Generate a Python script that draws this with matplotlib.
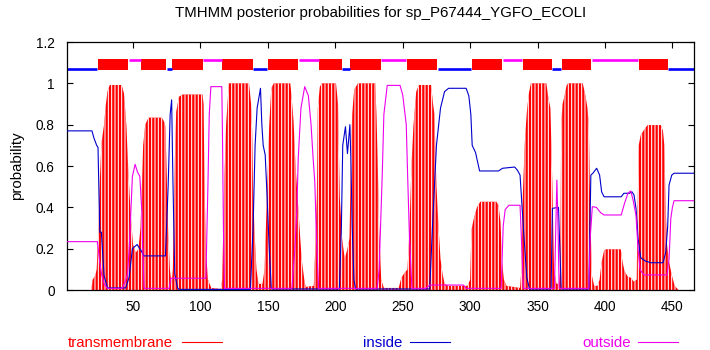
import matplotlib
matplotlib.use("Agg")
import matplotlib.pyplot as plt
from matplotlib.lines import Line2D
from matplotlib.ticker import FormatStrFormatter

plt.rcParams['font.family'] = ['Liberation Sans', 'DejaVu Sans']
plt.rcParams['hatch.color'] = 'white'
plt.rcParams['hatch.linewidth'] = 0.75

title = "TMHMM posterior probabilities for sp_P67444_YGFO_ECOLI"
seq_len = 466

# posterior curves as (residue, probability) vertices
tm_res = [1, 19, 20, 22, 23, 24.3, 25.5, 26.5, 28.5, 29.5, 31, 32.7, 41.6, 43.3, 45, 46.6,
          48, 49, 50, 52, 54, 55.5, 56.5, 57.5, 59, 61.4, 71.3, 73, 74, 75, 76, 77.3,
          78.5, 79.5, 80.3, 81, 82, 84, 86.7, 101.5, 102.3, 103, 104, 105.5, 108, 115,
          116.1, 117.5, 119, 121, 136, 137.5, 138.3, 139, 140, 141.5, 143, 146, 147.5,
          148.5, 150, 151, 152.5, 154.3, 166.6, 167.5, 169, 170.5, 172, 173.5, 175, 177,
          178, 184, 185.1, 186.3, 187, 188.5, 190, 200.5, 202, 203.3, 205, 207, 209,
          210.5, 211.5, 212.5, 214, 216.8, 229.6, 230.5, 231.5, 232.5, 234, 236, 247,
          249, 251, 253.5, 255, 256.5, 258, 260, 262, 271, 272.5, 273.5, 275, 276.5,
          278, 279.5, 281, 284, 298, 300, 300.9, 302.5, 305, 307.5, 319.5, 321, 322.5,
          323.5, 325, 327, 337, 338, 339, 340.5, 342, 343.5, 345, 356.5, 358, 359.5,
          361, 362.2, 364, 366, 366.8, 367.5, 368.5, 370, 371.5, 372.6, 383.5, 385.5,
          387, 388, 389, 390.3, 392, 394.4, 396, 397.5, 399.3, 400.5, 411.7, 413, 414.5,
          417, 419, 421.5, 423.5, 424.2, 425, 426.5, 428.5, 431.5, 441.4, 443, 444, 445,
          446, 447.5, 449.5, 451.7, 454.5, 466]
tm_val = [0, 0, 0.05, 0.07, 0.1, 0.30, 0.55, 0.71, 0.80, 0.88, 0.96, 0.992, 0.992, 0.95,
          0.80, 0.56, 0.395, 0.30, 0.22, 0.18, 0.20, 0.30, 0.50, 0.70, 0.80, 0.834, 0.834,
          0.815, 0.79, 0.55, 0.29, 0.10, 0.03, 0.10, 0.395, 0.637, 0.863, 0.935, 0.946,
          0.946, 0.90, 0.52, 0.20, 0.05, 0.01, 0.005, 0.05, 0.50, 0.80, 1.0, 1.0, 0.90,
          0.774, 0.50, 0.29, 0.10, 0.03, 0.03, 0.10, 0.30, 0.60, 0.80, 0.976, 1.0, 1.0,
          0.94, 0.82, 0.60, 0.45, 0.30, 0.15, 0.05, 0.015, 0.02, 0.20, 0.45, 0.88, 0.983,
          1.0, 1.0, 0.90, 0.45, 0.25, 0.15, 0.20, 0.25, 0.60, 0.85, 0.97, 1.0, 1.0, 0.85,
          0.60, 0.30, 0.05, 0.01, 0.01, 0.06, 0.08, 0.10, 0.30, 0.61, 0.80, 0.96, 0.992,
          0.992, 0.90, 0.85, 0.50, 0.31, 0.15, 0.08, 0.03, 0.02, 0.02, 0.05, 0.29, 0.34,
          0.40, 0.427, 0.427, 0.41, 0.33, 0.15, 0.05, 0.02, 0.01, 0.10, 0.45, 0.71, 0.86,
          0.95, 1.0, 1.0, 0.93, 0.88, 0.50, 0.10, 0.03, 0.03, 0.10, 0.80, 0.90, 0.94,
          0.99, 1.0, 1.0, 0.94, 0.88, 0.80, 0.40, 0.07, 0.02, 0.02, 0.05, 0.137, 0.19,
          0.197, 0.197, 0.137, 0.09, 0.064, 0.06, 0.04, 0.05, 0.40, 0.70, 0.75, 0.77,
          0.798, 0.798, 0.77, 0.70, 0.40, 0.22, 0.137, 0.073, 0.02, 0.0, 0.0]

in_res = [1, 19.5, 21, 23, 24, 25.3, 26.5, 28.5, 31, 44.5, 47, 49.5, 53, 56, 58, 74, 76,
          77.5, 78.6, 79.5, 80.9, 83, 84, 137, 139, 140.5, 142, 144.5, 145.5, 146.5,
          148, 149, 151, 152.5, 203, 204.5, 205.5, 207.5, 209, 210.8, 211.5, 212.5,
          213.8, 215, 270, 272, 275, 278, 281, 284, 297, 299, 300.5, 301.5, 304, 305.5,
          307, 321, 324, 333, 335, 337, 338.5, 340, 342, 344, 360, 361, 365.5, 366,
          367.5, 388, 389.5, 391, 393.8, 396, 397.5, 399.3, 412, 414, 418, 420, 421.5,
          423, 424.5, 426.5, 430, 434, 443, 445, 446.5, 447.5, 449.5, 451.2, 466]
in_val = [0.77, 0.77, 0.735, 0.70, 0.69, 0.28, 0.28, 0.07, 0.01, 0.01, 0.06, 0.20, 0.22,
          0.19, 0.165, 0.165, 0.50, 0.85, 0.92, 0.55, 0.08, 0.01, 0.003, 0.003, 0.30,
          0.70, 0.88, 0.976, 0.80, 0.70, 0.653, 0.508, 0.20, 0.005, 0.005, 0.31, 0.70,
          0.79, 0.66, 0.80, 0.64, 0.31, 0.05, 0.005, 0.005, 0.30, 0.70, 0.88, 0.96,
          0.976, 0.976, 0.94, 0.85, 0.70, 0.665, 0.62, 0.576, 0.576, 0.589, 0.595, 0.58,
          0.556, 0.40, 0.25, 0.06, 0.005, 0.005, 0.395, 0.40, 0.30, 0.005, 0.005, 0.556,
          0.565, 0.589, 0.556, 0.475, 0.451, 0.451, 0.468, 0.468, 0.475, 0.46, 0.395,
          0.25, 0.156, 0.14, 0.132, 0.132, 0.18, 0.31, 0.508, 0.556, 0.565, 0.565]

out_res = [1, 23.6, 25, 26.5, 28.5, 31, 42, 44.6, 46, 47.5, 49.5, 51.5, 53.3, 55, 56.5, 57,
           58.2, 76.8, 78, 104, 105.5, 106.5, 107.7, 115.8, 116.3, 117, 117.8, 167.8,
           170, 171.5, 172.5, 174.5, 177.3, 180, 182, 183.5, 184.8, 186, 187.6, 231,
           232.5, 234.8, 236, 238.5, 248, 250, 252.6, 253.6, 255, 256.8, 267, 270, 295,
           297, 323, 324.5, 326, 328.8, 337, 338, 339.5, 362.5, 363.5, 364.3, 365, 366,
           388, 389, 390.6, 393.6, 396.8, 399.3, 412, 414.5, 417, 419.1, 421, 423, 424.5,
           426, 429, 446, 447.5, 448.8, 450, 451.2, 466]
out_val = [0.234, 0.234, 0.15, 0.08, 0.03, 0.008, 0.008, 0.05, 0.08, 0.25, 0.55, 0.608,
           0.57, 0.55, 0.38, 0.234, 0.008, 0.008, 0.057, 0.057, 0.50, 0.85, 0.984, 0.984,
           0.75, 0.30, 0.008, 0.008, 0.20, 0.395, 0.64, 0.88, 0.984, 0.94, 0.80, 0.64,
           0.52, 0.25, 0.008, 0.008, 0.10, 0.56, 0.85, 0.99, 0.99, 0.943, 0.80, 0.56,
           0.25, 0.008, 0.008, 0.024, 0.024, 0.008, 0.008, 0.31, 0.39, 0.41, 0.41, 0.25,
           0.008, 0.008, 0.30, 0.532, 0.35, 0.008, 0.008, 0.25, 0.403, 0.40, 0.374, 0.363,
           0.363, 0.42, 0.468, 0.479, 0.43, 0.36, 0.20, 0.097, 0.073, 0.073, 0.15, 0.346,
           0.40, 0.432, 0.432]

# predicted topology (start, end)
inside_seg = [(1, 23), (75, 78), (139, 149), (205, 210), (276, 300), (361, 367), (447, 466)]
outside_seg = [(47, 55), (102, 115), (173, 187), (234, 252), (324, 338), (390, 424)]
tm_seg = [(24, 46), (56, 74), (79, 101), (116, 138), (150, 172), (188, 204), (211, 233),
          (253, 275), (301, 323), (339, 360), (368, 389), (425, 446)]

red = '#ff0000'
blue = '#0000cc'
magenta = '#ee00ee'
fs = 10.8

fig = plt.figure(figsize=(7.1, 3.5), dpi=100)
ax = fig.add_axes([67/710, 60/350, 627/710, 248/350])

ax.fill_between(tm_res, tm_val, 0, facecolor=red, edgecolor='white', linewidth=0,
                hatch='|||||', zorder=2)
ax.plot(in_res, in_val, color=blue, lw=0.8, zorder=3)
ax.plot(out_res, out_val, color=magenta, lw=0.8, zorder=3)

# topology bar on top
for s, e in inside_seg:
    ax.plot([s, e + 0.6], [1.067, 1.067], color='#0000ff', lw=1.9, solid_capstyle='butt')
for s, e in outside_seg:
    ax.plot([s, e + 0.6], [1.112, 1.112], color='#ff00ff', lw=1.9, solid_capstyle='butt')
ax.broken_barh([(s, e + 0.6 - s) for s, e in tm_seg], (1.064, 0.052), facecolors=red)

ax.set_xlim(1, seq_len)
ax.set_ylim(0, 1.2)
ax.set_xticks(range(50, 451, 50))
ax.set_yticks([0, 0.2, 0.4, 0.6, 0.8, 1.0, 1.2])
ax.yaxis.set_major_formatter(FormatStrFormatter('%g'))
ax.tick_params(direction='in', top=True, right=True, length=4, width=0.8,
               labelsize=9.8)
ax.tick_params(axis='y', pad=9)
ax.tick_params(axis='x', pad=7)
for sp in ax.spines.values():
    sp.set_linewidth(0.9)

fig.text(0.536, 0.963, title, ha='center', va='center', fontsize=fs)
fig.text(0.0245, 1 - 166/350, 'probability', rotation=90, ha='center', va='center',
         fontsize=fs)

# legend row underneath
fig.text(68/710, 1 - 343/350, 'transmembrane', color=red, fontsize=fs, va='center')
fig.add_artist(Line2D([182/710, 222/710], [1 - 342/350] * 2, color=red, lw=0.8))
fig.text(363/710, 1 - 343/350, 'inside', color=blue, fontsize=fs, va='center')
fig.add_artist(Line2D([410/710, 450/710], [1 - 342/350] * 2, color=blue, lw=0.8))
fig.text(582/710, 1 - 343/350, 'outside', color=magenta, fontsize=fs, va='center')
fig.add_artist(Line2D([638/710, 678/710], [1 - 342/350] * 2, color=magenta, lw=0.8))

fig.savefig('out.png', dpi=100)
